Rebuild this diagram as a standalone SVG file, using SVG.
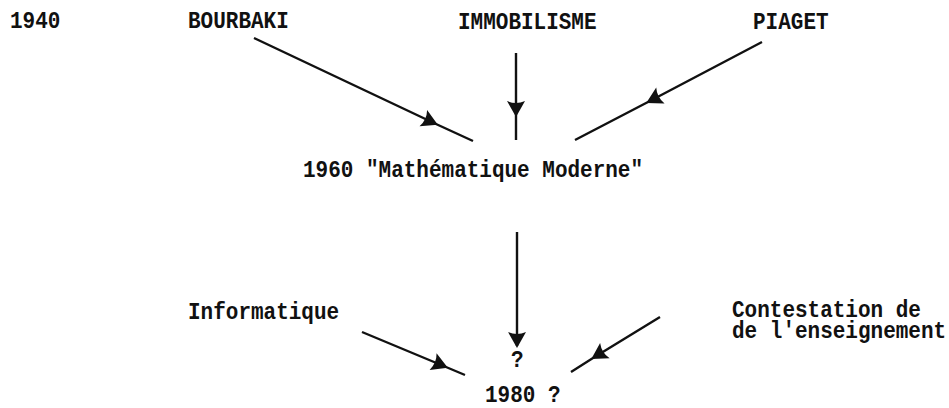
<svg xmlns="http://www.w3.org/2000/svg" width="949" height="408" viewBox="0 0 949 408">
<style>
text{font-family:"Liberation Mono","Courier New",monospace;font-size:21px;font-weight:bold;fill:#111}
.c{fill:none;stroke:#111;stroke-width:2.4;marker-mid:url(#ah)}
.e{fill:none;stroke:#111;stroke-width:2.4;marker-end:url(#ah)}
</style>
<defs>
<marker id="ah" viewBox="-17 -10 20 20" markerWidth="20" markerHeight="20" refX="0" refY="0" orient="auto" markerUnits="userSpaceOnUse">
<path d="M2,0 L-14,-9 Q-10,0 -14,9 Z" fill="#111"/>
</marker>
</defs>
<rect width="949" height="408" fill="#fff"/>
<g id="n1940"><text transform="translate(10,28) scale(1,1.18)">1940</text></g>
<g id="bourbaki"><text transform="translate(188,28) scale(1,1.18)">BOURBAKI</text></g>
<g id="immobilisme"><text transform="translate(458,29) scale(1,1.18)">IMMOBILISME</text></g>
<g id="piaget"><text transform="translate(753,29) scale(1,1.18)">PIAGET</text></g>
<g id="n1960"><text transform="translate(303,177) scale(1,1.18)">1960 "Mathématique Moderne"</text></g>
<g id="informatique"><text transform="translate(188,319) scale(1,1.18)">Informatique</text></g>
<g id="contestation"><text transform="translate(732,317) scale(1,1.1)">Contestation de</text><text transform="translate(732,338) scale(1,1.1)">de l'enseignement</text></g>
<g id="q"><text transform="translate(511,367) scale(1,1.18)">?</text></g>
<g id="n1980"><text transform="translate(485,402) scale(1,1.18)">1980 ?</text></g>
<g id="connectors">
<polyline class="c" points="254,38 436,124 473,141"/>
<polyline class="c" points="516,53 516,115 516,140"/>
<polyline class="c" points="762,42 648,102 575,140"/>
<polyline class="e" points="517,232 517,346"/>
<polyline class="c" points="362,332 446,367 465,375"/>
<polyline class="c" points="660,317 593,358 571,372"/>
</g>
</svg>
